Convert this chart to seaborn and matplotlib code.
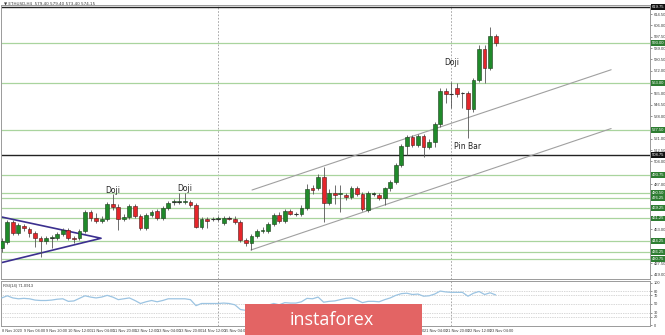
import numpy as np
import matplotlib
matplotlib.use("Agg")
import matplotlib.pyplot as plt
import seaborn as sns
from matplotlib.patches import Rectangle
from matplotlib.transforms import blended_transform_factory

# ---------------- data (ETHUSD, H4) ----------------
opens = [439.0, 443.5, 458.5, 450.25, 455.5, 453.25, 450.25, 446.5, 444.25, 446.5,
         446.5, 449.5, 452.5, 446.5, 446.5, 451.75, 466.0, 461.5, 459.25, 460.75,
         472.0, 469.75, 460.75, 462.25, 470.5, 463.0, 454.0, 463.75, 466.75, 461.5,
         469.0, 473.5, 473.5, 473.5, 473.5, 471.25, 454.75, 460.75, 460.75, 461.1,
         457.75, 461.5, 460.75, 458.5, 445.0, 442.75, 448.0, 451.75, 451.75, 457.0,
         463.75, 459.25, 466.75, 464.5, 464.5, 469.0, 484.0, 484.0, 492.25, 472.75,
         480.25, 479.5, 478.75, 477.25, 484.0, 479.5, 467.5, 479.5, 478.75, 476.5,
         484.0, 488.5, 501.25, 515.5, 522.25, 516.25, 523.0, 514.75, 518.5, 532.0,
         556.75, 554.5, 559.0, 555.25, 555.25, 543.25, 565.0, 588.25, 574.0, 598.0]
highs = [446.5, 460.0, 460.0, 457.75, 457.0, 454.75, 451.75, 448.0, 448.0, 448.75,
         451.0, 454.0, 454.0, 448.0, 453.25, 467.5, 467.5, 465.25, 463.0, 473.5,
         479.5, 472.0, 464.5, 472.0, 472.0, 464.5, 465.25, 467.5, 468.25, 470.5,
         474.25, 475.75, 480.25, 480.25, 475.0, 472.75, 462.25, 462.25, 462.25, 463.0,
         463.0, 463.0, 463.0, 460.0, 446.5, 449.5, 453.25, 454.75, 458.5, 465.25,
         466.0, 468.25, 468.25, 466.0, 471.25, 487.0, 486.25, 494.5, 499.75, 483.25,
         486.25, 486.25, 480.25, 485.5, 485.5, 481.0, 481.75, 481.0, 480.25, 484.75,
         490.0, 502.75, 517.0, 523.75, 523.75, 524.5, 524.5, 520.75, 533.5, 559.0,
         559.0, 563.5, 562.75, 556.0, 556.75, 566.5, 591.25, 591.25, 604.75, 599.5]
lows = [436.0, 442.0, 448.75, 448.75, 451.75, 447.25, 439.75, 432.25, 442.0, 439.0,
        445.0, 448.0, 445.0, 442.75, 445.0, 450.25, 459.25, 457.75, 457.75, 459.25,
        467.5, 452.5, 459.25, 460.75, 461.5, 452.5, 452.5, 462.25, 460.0, 460.0,
        467.5, 471.25, 472.0, 472.0, 469.75, 454.0, 453.25, 454.0, 459.25, 459.25,
        456.25, 460.0, 457.0, 443.5, 440.5, 437.5, 446.5, 450.25, 450.25, 455.5,
        457.75, 457.75, 463.75, 463.0, 463.0, 467.5, 479.5, 482.5, 458.5, 471.25,
        472.0, 466.0, 475.0, 475.75, 478.0, 466.75, 466.0, 478.0, 475.0, 471.25,
        481.75, 487.0, 499.75, 508.75, 514.75, 514.75, 507.25, 513.25, 514.75, 529.75,
        547.75, 544.0, 552.25, 544.0, 521.5, 541.0, 563.5, 562.75, 572.5, 590.5]
closes = [444.25, 458.5, 450.25, 456.25, 454.0, 450.25, 446.5, 444.25, 446.5, 446.9,
          449.5, 452.5, 446.5, 445.4, 451.75, 466.0, 461.5, 459.25, 460.75, 472.0,
          469.75, 460.75, 462.6, 470.5, 463.0, 454.0, 463.75, 466.0, 461.5, 469.0,
          472.75, 473.9, 473.9, 474.25, 471.25, 454.75, 460.75, 459.25, 461.1, 461.5,
          461.5, 461.1, 458.5, 445.0, 442.75, 448.0, 451.75, 452.5, 457.0, 463.75,
          459.25, 466.75, 464.5, 464.6, 469.0, 483.25, 482.5, 492.25, 472.75, 480.25,
          478.75, 480.25, 477.25, 484.0, 479.5, 468.25, 480.25, 479.9, 476.5, 484.0,
          488.5, 501.25, 515.5, 522.25, 516.25, 523.0, 514.75, 518.5, 532.0, 556.75,
          554.5, 554.6, 554.5, 555.6, 543.25, 565.0, 588.25, 574.0, 598.0, 592.75]
rsi = [64, 69, 64, 62, 63, 62, 59, 58, 58, 59, 61, 62, 56, 57, 63, 69, 66, 64, 66, 70,
       66, 60, 62, 64, 58, 51, 55, 58, 55, 58, 62, 62, 62, 62, 60, 46, 51, 51, 51, 51,
       52, 51, 48, 37, 35, 40, 43, 44, 47, 51, 48, 53, 52, 52, 55, 63, 62, 66, 54, 56,
       57, 60, 63, 64, 59, 53, 56, 56, 55, 60, 64, 70, 74, 75, 72, 73, 68, 69, 73, 80,
       78, 77, 77, 77, 68, 75, 79, 72, 76, 71]

time_tick_pos = [0, 4, 8, 12, 16, 20, 24, 28, 32, 36, 40, 44, 48, 52, 56, 60, 64,
                 68, 72, 76, 80, 84, 88]
time_labels = ["8 Nov 2020", "9 Nov 04:00", "9 Nov 20:00", "10 Nov 12:00",
               "11 Nov 04:00", "11 Nov 20:00", "12 Nov 12:00", "13 Nov 04:00",
               "13 Nov 20:00", "14 Nov 12:00", "15 Nov 04:00", "15 Nov 20:00",
               "16 Nov 12:00", "17 Nov 04:00", "17 Nov 20:00", "18 Nov 12:00",
               "19 Nov 04:00", "19 Nov 20:00", "20 Nov 12:00", "21 Nov 04:00",
               "21 Nov 20:00", "22 Nov 12:00", "23 Nov 04:00"]

green_levels = [593.0, 563.0, 527.5, 493.75, 480.5, 476.25, 469.25, 461.25,
                444.25, 436.25, 430.75]
black_levels = [619.75, 508.75]

price_ticks = [614.5 - 8.5 * k for k in range(24)]
rsi_ticks = [100, 80, 70, 50, 30, 20, 0]

separators = [39, 81]

channel_upper_x = [45.1, 109.8]
channel_upper_y = [482.5, 572.7]
channel_lower_x = [44.9, 109.8]
channel_lower_y = [437.5, 528.6]
triangle_x = [-0.3, 17.9, -0.3]
triangle_y = [462.5, 446.3, 427.75]

annotations = [("Doji", 20.0, 482.5), ("Doji", 32.9, 483.3),
               ("Doji", 81.0, 577.8), ("Pin Bar", 84.0, 514.8)]

# ---------------- drawing ----------------
sns.set_theme(style="white")
plt.rcParams['font.family'] = ['Liberation Sans', 'DejaVu Sans']

W, H = 665, 335
fig = plt.figure(figsize=(W / 100, H / 100), dpi=100)
fig.patch.set_facecolor("white")
ax = fig.add_axes([1 / W, 56 / H, 649 / W, 274 / H])
axr = fig.add_axes([1 / W, 9 / H, 649 / W, 45 / H])

o = np.array(opens); h = np.array(highs); l = np.array(lows); c = np.array(closes)
idx = np.arange(len(o))
up = c >= o
GREEN = "#1f8a2a"
RED = "#e5262b"
TXT = "#3a3a3a"

for a in (ax, axr):
    a.set_xlim(-0.13, 116.8)
    for s in a.spines.values():
        s.set_color("#9a9a9a")
        s.set_linewidth(0.7)
    for sp in separators:
        a.axvline(sp, color="#9a9a9a", lw=0.6, ls=(0, (2, 2)), zorder=1)

ax.set_ylim(415.75, 621.25)

# horizontal levels
for lv in green_levels:
    ax.axhline(lv, color="#a9d49e", lw=0.9, zorder=1)
for lv in black_levels:
    ax.axhline(lv, color="#222222", lw=1.0, zorder=1)

# channel and triangle
ax.plot(channel_upper_x, channel_upper_y, color="#a0a0a0", lw=0.8, zorder=2)
ax.plot(channel_lower_x, channel_lower_y, color="#a0a0a0", lw=0.8, zorder=2)
ax.plot(triangle_x, triangle_y, color="#3b2f8f", lw=1.2, zorder=2, clip_on=True)

# candles
ax.vlines(idx, l, h, color="#555555", lw=0.6, zorder=3)
ax.bar(idx[up], (c - o)[up], bottom=o[up], width=0.68, color=GREEN,
       edgecolor="#1b3a1b", linewidth=0.4, zorder=4)
ax.bar(idx[~up], (c - o)[~up], bottom=o[~up], width=0.68, color=RED,
       edgecolor="#4a1a1a", linewidth=0.4, zorder=4)
doji = np.abs(c - o) < 0.6
ax.hlines(o[doji], idx[doji] - 0.34, idx[doji] + 0.34, color="#333333", lw=0.8, zorder=4)

for txt, xx, yy in annotations:
    ax.text(xx, yy, txt, fontsize=5.5, color="#222222", ha="center", va="center",
            zorder=6, family=["DejaVu Sans"])

# right price axis (drop tick labels hidden behind level boxes)
all_levels = green_levels + black_levels
shown_ticks = [t for t in price_ticks
               if 416 < t < 621 and min(abs(t - lv) for lv in all_levels) > 2.6]
ax.yaxis.tick_right()
ax.set_yticks(shown_ticks)
ax.set_yticklabels([f"{v:.2f}" for v in shown_ticks], fontsize=3.0, color=TXT)
ax.tick_params(axis="y", length=1.5, width=0.5, pad=1, colors="#666666")
ax.set_xticks([])
trans = blended_transform_factory(ax.transAxes, ax.transData)
for lv in green_levels:
    ax.text(1.0025, lv, f"{lv:.2f}", transform=trans, fontsize=3.0, color="white",
            va="center", ha="left", clip_on=False, zorder=8,
            bbox=dict(boxstyle="square,pad=0.2", fc="#2e7d32", ec="none"))
for lv in black_levels:
    ax.text(1.0025, lv, f"{lv:.2f}", transform=trans, fontsize=3.0, color="white",
            va="center", ha="left", clip_on=False, zorder=8,
            bbox=dict(boxstyle="square,pad=0.2", fc="#111111", ec="none"))

# RSI panel
axr.set_ylim(-1.5, 103.5)
for lv in [80, 70, 50, 30, 20]:
    axr.axhline(lv, color="#b0b0b0", lw=0.5, ls=(0, (1, 1.5)), zorder=1)
sns.lineplot(x=idx, y=rsi, ax=axr, color="#9cc4e2", lw=0.9, zorder=3)
axr.set_xlabel(""); axr.set_ylabel("")
axr.yaxis.tick_right()
axr.set_yticks(rsi_ticks)
axr.set_yticklabels([str(v) for v in rsi_ticks], fontsize=2.8)
axr.tick_params(axis="y", length=1.5, width=0.5, pad=1, colors="#666666")
axr.set_xticks(time_tick_pos)
axr.set_xticklabels(time_labels, fontsize=2.8, ha="left")
axr.tick_params(axis="x", length=1.5, width=0.5, pad=0.8, colors="#666666")
for t in axr.get_yticklabels() + axr.get_xticklabels() + ax.get_yticklabels():
    t.set_color(TXT)
axr.text(0.003, 0.94, "RSI(14) 71.0913", transform=axr.transAxes, fontsize=3.0,
         color=TXT, va="top", ha="left")

# title
fig.text(4 / W, 1 - 3.2 / H, "\u25BC ETHUSD,H4  579.40 579.40 573.40 574.15",
         fontsize=3.0, color=TXT, va="center", ha="left",
         family=["DejaVu Sans"])

# logo
fig.patches.append(Rectangle((245 / W, 0), 177 / W, 31 / H, transform=fig.transFigure,
                             facecolor="#e36464", edgecolor="none", zorder=10))
fig.text(331.5 / W, 10 / H, "instaforex", fontsize=13, color="white", ha="center",
         va="baseline", zorder=11, family=["Open Sans", "DejaVu Sans"])

fig.savefig("out.png", dpi=100)
